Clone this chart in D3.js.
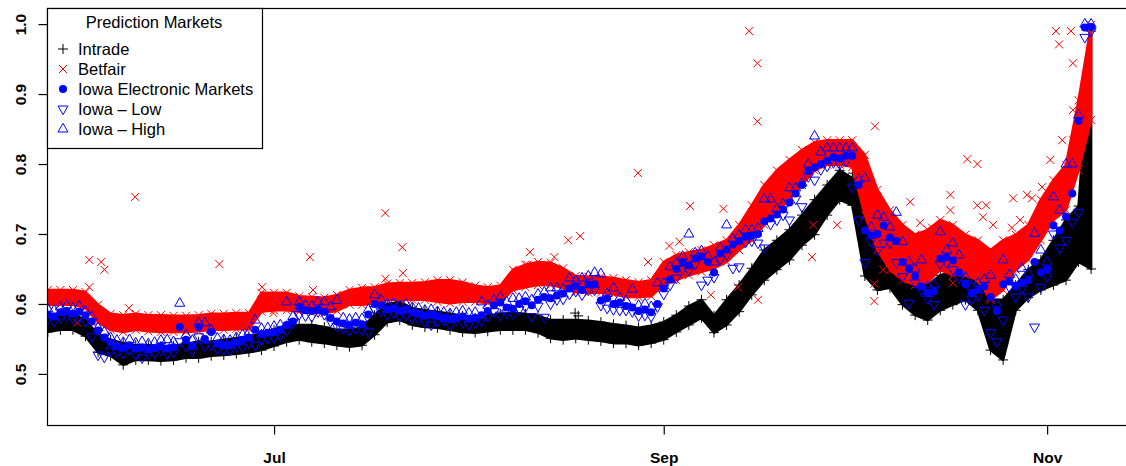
<!DOCTYPE html>
<html>
<head>
<meta charset="utf-8">
<script src="https://cdn.jsdelivr.net/npm/d3@7"></script>
<style>
  body { margin: 0; background: #fff; }
  svg { display: block; }
  text { font-family: "Liberation Sans", Arial, sans-serif; }
</style>
</head>
<body>
<script>
// ---- data ----
// daily dates, May 26 .. Nov 8 2008
const dayDates = d3.utcDay.range(new Date(Date.UTC(2008, 4, 26)), new Date(Date.UTC(2008, 10, 9)));
// bands are sampled every second day
const bandDates = dayDates.filter((d, i) => i % 2 === 0);

// Intrade: top and bottom of the dense black band
const intradeHi = [.580,.583,.586,.577,.556,.549,.544,.541,.541,.540,.540,.543,.546,.546,.549,.551,.554,.557,.563,.569,
  .570,.570,.567,.563,.563,.566,.584,.600,.603,.594,.591,.589,.586,.583,.580,.583,.586,.587,.586,.583,
  .577,.577,.577,.576,.574,.571,.569,.566,.569,.574,.584,.597,.606,.583,.606,.627,.651,.677,.691,.706,
  .727,.749,.770,.791,.780,.760,.670,.660,.641,.634,.627,.641,.646,.646,.627,.606,.606,.627,.649,.663,
  .691,.720,.740,.990];
const intradeLo = [.560,.563,.563,.554,.531,.526,.513,.520,.520,.519,.520,.523,.523,.526,.527,.529,.531,.534,.540,.546,
  .549,.546,.544,.541,.539,.541,.556,.574,.577,.570,.567,.566,.563,.560,.559,.561,.563,.563,.563,.559,
  .551,.549,.551,.549,.547,.544,.544,.541,.544,.549,.560,.570,.580,.559,.570,.589,.613,.634,.649,.663,
  .684,.699,.727,.749,.741,.640,.620,.623,.599,.584,.577,.591,.599,.606,.591,.534,.520,.591,.609,.620,
  .627,.634,.660,.650];
// a few stray Intrade trades: [day offset from May 26, value]
const intradeOut = [[83.9, .587], [84.4, .583], [112.6, .644], [113.1, .645], [128.1, .787], [129.2, .787]];

// Betfair: top and bottom of the red band
const betfairHi = [.620,.620,.620,.617,.599,.586,.584,.586,.584,.584,.583,.583,.584,.586,.586,.587,.587,.616,.616,.616,
  .611,.610,.609,.613,.620,.623,.624,.629,.630,.630,.631,.634,.634,.631,.626,.624,.626,.649,.656,.660,
  .659,.651,.640,.639,.639,.637,.634,.631,.634,.660,.670,.674,.677,.684,.691,.713,.741,.770,.791,.806,
  .820,.831,.834,.834,.834,.813,.763,.734,.713,.699,.706,.720,.713,.699,.691,.677,.691,.699,.713,.749,
  .777,.799,.891,.999];
const betfairLo = [.599,.599,.599,.594,.574,.563,.560,.563,.561,.560,.560,.560,.561,.563,.563,.564,.564,.589,.591,.591,
  .589,.587,.587,.590,.599,.599,.601,.606,.606,.606,.606,.603,.601,.603,.603,.601,.603,.620,.624,.627,
  .627,.623,.617,.616,.616,.614,.610,.610,.611,.627,.634,.641,.646,.651,.660,.677,.691,.713,.731,.749,
  .770,.791,.799,.799,.796,.727,.677,.649,.634,.627,.631,.649,.641,.641,.634,.606,.620,.649,.663,.691,
  .720,.734,.791,.863];
// Betfair stray trades: [day offset from May 26, value]
const betfairOut = [[6.6,.663],[8.5,.660],[9.0,.649],[6.6,.624],[4.7,.573],[12.9,.594],[13.9,.753],[27.3,.657],
  [34.1,.624],[35.9,.587],[41.7,.667],[42.2,.620],[53.7,.730],[53.7,.636],[56.4,.681],[56.5,.644],
  [76.3,.656],[76.7,.674],[80.6,.667],[82.8,.691],[84.7,.697],[93.9,.787],[95.5,.660],[98.9,.683],
  [100.5,.689],[102.2,.740],[105.5,.613],[107.5,.736],[109.8,.624],[111.6,.990],[112.9,.944],[112.9,.861],
  [113.0,.606],[121.6,.667],[121.8,.713],[125.6,.713],[131.6,.854],[131.5,.629],[131.5,.604],[132.9,.649],
  [134.5,.649],[137.2,.746],[138.8,.716],[140.7,.709],[140.7,.691],[143.6,.756],[143.6,.734],[144.0,.630],
  [146.3,.807],[147.9,.800],[147.9,.741],[149.3,.741],[148.8,.724],[149.9,.609],[150.4,.713],[153.6,.751],
  [153.4,.709],[154.7,.720],[155.8,.756],[156.6,.751],[158.2,.767],[159.5,.806],[160.4,.990],[162.8,.990],
  [160.9,.971],[163.1,.944],[163.1,.877],[161.4,.834],[163.1,.834]];

// Iowa Electronic Markets, daily
const iemValue = [.585,.582,.588,.590,.586,.589,.584,.575,.562,.552,.545,.540,.537,.541,.536,.538,.535,.537,.540,.536,
  .538,.567,.549,.540,.567,.550,.560,.543,.541,.541,.545,.549,.552,.563,.557,.559,.560,.563,.570,.575,
  .596,.591,.590,.592,.589,.580,.575,.572,.570,.573,.571,.585,.600,.598,.592,.594,.590,.592,.588,.586,
  .583,.585,.582,.580,.578,.580,.582,.579,.580,.584,.590,.598,.602,.595,.593,.600,.604,.598,.606,.610,
  .608,.612,.615,.622,.626,.620,.628,.628,.605,.608,.600,.602,.597,.595,.590,.592,.588,.600,.622,.635,
  .650,.660,.655,.665,.668,.660,.645,.672,.678,.685,.690,.696,.698,.700,.718,.722,.728,.735,.745,.758,
  .770,.790,.795,.800,.805,.810,.808,.812,.812,.770,.705,.698,.700,.712,.695,.690,.660,.650,.640,.625,
  .615,.618,.665,.667,.662,.645,.628,.615,.620,.625,.610,.590,.628,.632,.625,.630,.634,.660,.645,.650,
  .712,.705,.725,.758,.862,.995,.996];
const iemHigh = [.593,.591,.596,.598,.594,.597,.590,.582,.566,.560,.552,.548,.545,.549,.544,.546,.543,.545,.548,.549,
  .546,.601,.556,.548,.573,.573,.563,.551,.549,.548,.552,.556,.560,.577,.565,.566,.568,.570,.603,.582,
  .603,.598,.597,.603,.603,.596,.605,.580,.578,.580,.579,.592,.613,.606,.600,.601,.598,.600,.595,.594,
  .591,.592,.589,.588,.586,.588,.590,.587,.588,.603,.598,.606,.610,.603,.608,.608,.610,.606,.614,.617,
  .623,.623,.622,.637,.633,.637,.640,.645,.643,.615,.623,.609,.605,.621,.598,.600,.596,.630,.630,.653,
  .658,.668,.700,.673,.676,.668,.660,.680,.713,.693,.698,.706,.706,.708,.750,.750,.736,.743,.766,.766,
  .773,.800,.840,.817,.823,.823,.823,.823,.823,.778,.780,.710,.727,.724,.710,.731,.689,.660,.650,.663,
  .625,.628,.703,.677,.687,.670,.638,.625,.630,.635,.641,.600,.663,.642,.635,.651,.644,.701,.677,.660,
  .753,.734,.800,.800,.870,1.000,1.000];
const iemLow = [.578,.575,.580,.582,.579,.581,.575,.553,.527,.524,.533,.532,.530,.535,.528,.523,.529,.530,.534,.529,
  .531,.546,.540,.533,.553,.540,.541,.536,.535,.534,.540,.538,.544,.541,.549,.551,.552,.555,.562,.573,
  .585,.583,.582,.589,.585,.575,.568,.565,.562,.565,.563,.560,.592,.590,.585,.587,.583,.584,.580,.578,
  .575,.570,.575,.577,.570,.577,.574,.571,.573,.576,.582,.589,.584,.587,.586,.592,.596,.582,.597,.581,
  .600,.606,.607,.614,.618,.613,.620,.620,.598,.594,.592,.591,.591,.589,.583,.584,.582,.596,.614,.627,
  .637,.650,.648,.657,.627,.634,.638,.664,.670,.651,.653,.688,.690,.687,.680,.714,.720,.727,.720,.750,
  .739,.782,.777,.792,.797,.802,.800,.804,.767,.720,.659,.690,.677,.687,.687,.659,.639,.601,.630,.620,
  .607,.599,.657,.659,.649,.637,.599,.607,.612,.591,.559,.546,.577,.624,.610,.622,.610,.567,.624,.639,
  .700,.680,.691,.717,.731,.981,.990];

const yTicks = [0.5, 0.6, 0.7, 0.8, 0.9, 1.0];
const xTicks = [new Date(Date.UTC(2008, 6, 1)), new Date(Date.UTC(2008, 8, 1)), new Date(Date.UTC(2008, 10, 1))];
const legendItems = ['Intrade', 'Betfair', 'Iowa Electronic Markets', 'Iowa \u2013 Low', 'Iowa \u2013 High'];

// ---- layout ----
const W = 1126, H = 466;
const mLeft = 47, mTop = 8, mRight = 1127, mBottom = 425;

const x = d3.scaleUtc()
  .domain([new Date(Date.UTC(2008, 4, 25, 21)), new Date(Date.UTC(2008, 10, 13, 17))])
  .range([mLeft, mRight]);
const y = d3.scaleLinear().domain([0.427, 1.023]).range([mBottom, mTop]);
const offDate = o => new Date(Date.UTC(2008, 4, 26) + o * 864e5);

const sym = {
  plus: 'M-5,0H5M0,-5V5',
  cross: 'M-4,-4L4,4M-4,4L4,-4',
  down: 'M-5,-3L5,-3L0,5.7Z',
  up: 'M0,-5.7L5,3L-5,3Z'
};

const svg = d3.select('body').append('svg')
  .attr('width', W)
  .attr('height', H);

svg.append('clipPath').attr('id', 'plot')
  .append('rect').attr('x', mLeft).attr('y', mTop)
  .attr('width', mRight - mLeft).attr('height', mBottom - mTop);

const g = svg.append('g').attr('clip-path', 'url(#plot)');

// dense trade cloud: filled band plus the marker shape along both edges
function band(hi, lo, color, shape) {
  const area = d3.area()
    .x((d, i) => x(bandDates[i]))
    .y0((d, i) => y(lo[i]))
    .y1(d => y(d));
  g.append('path').datum(hi).attr('d', area)
    .attr('fill', color)
    .attr('stroke', color)
    .attr('stroke-width', 2.5)
    .attr('stroke-linejoin', 'round');
  const pts = [];
  hi.forEach((v, i) => { pts.push([bandDates[i], v]); pts.push([bandDates[i], lo[i]]); });
  g.append('g').selectAll('path').data(pts).enter().append('path')
    .attr('transform', d => `translate(${x(d[0])},${y(d[1])})`)
    .attr('d', shape)
    .attr('fill', 'none')
    .attr('stroke', color)
    .attr('stroke-width', 1);
}

// Intrade
band(intradeHi, intradeLo, '#000', sym.plus);
g.append('g').selectAll('path').data(intradeOut).enter().append('path')
  .attr('transform', d => `translate(${x(offDate(d[0]))},${y(d[1])})`)
  .attr('d', sym.plus).attr('stroke', '#000').attr('fill', 'none');

// Betfair
band(betfairHi, betfairLo, '#ff0000', sym.cross);
g.append('g').selectAll('path').data(betfairOut).enter().append('path')
  .attr('transform', d => `translate(${x(offDate(d[0]))},${y(d[1])})`)
  .attr('d', sym.cross).attr('stroke', '#ff0000').attr('fill', 'none');

// Iowa
g.append('g').selectAll('circle').data(iemValue).enter().append('circle')
  .attr('cx', (d, i) => x(dayDates[i]))
  .attr('cy', d => y(d))
  .attr('r', 4)
  .attr('fill', '#0000ff');

g.append('g').selectAll('path').data(iemLow).enter().append('path')
  .attr('transform', (d, i) => `translate(${x(dayDates[i])},${y(d)})`)
  .attr('d', sym.down).attr('fill', 'none').attr('stroke', '#0000ff');

g.append('g').selectAll('path').data(iemHigh).enter().append('path')
  .attr('transform', (d, i) => `translate(${x(dayDates[i])},${y(d)})`)
  .attr('d', sym.up).attr('fill', 'none').attr('stroke', '#0000ff');

// box
svg.append('rect')
  .attr('x', mLeft + 0.5).attr('y', mTop + 0.5)
  .attr('width', mRight - mLeft).attr('height', mBottom - mTop)
  .attr('fill', 'none').attr('stroke', '#000').attr('stroke-width', 1.2);

// y axis
const yAxis = svg.append('g')
  .attr('transform', `translate(${mLeft + 0.5},0)`)
  .call(d3.axisLeft(y).tickValues(yTicks).tickSize(9).tickFormat(d3.format('.1f')));
yAxis.select('.domain').remove();
yAxis.selectAll('line').attr('stroke-width', 1.2);
yAxis.selectAll('text')
  .attr('x', 0).attr('dy', 0)
  .attr('transform', 'translate(-22,0) rotate(-90)')
  .attr('text-anchor', 'middle')
  .attr('font-family', '"Liberation Sans", Arial, sans-serif')
  .attr('font-weight', 'bold')
  .attr('font-size', '15.5px')
  .attr('fill', '#000');

// x axis
const xAxis = svg.append('g')
  .attr('transform', `translate(0,${mBottom + 0.5})`)
  .call(d3.axisBottom(x).tickValues(xTicks).tickSize(9).tickFormat(d3.utcFormat('%b')));
xAxis.select('.domain').remove();
xAxis.selectAll('line').attr('stroke-width', 1.2);
xAxis.selectAll('text')
  .attr('y', 37).attr('dy', 0)
  .attr('font-family', '"Liberation Sans", Arial, sans-serif')
  .attr('font-weight', 'bold')
  .attr('font-size', '15.5px')
  .attr('fill', '#000');

// legend
const lg = svg.append('g');
lg.append('rect')
  .attr('x', mLeft + 0.5).attr('y', mTop + 0.5)
  .attr('width', 215).attr('height', 140)
  .attr('fill', '#fff').attr('stroke', '#000').attr('stroke-width', 1.2);
lg.append('text')
  .attr('x', 154).attr('y', 28)
  .attr('text-anchor', 'middle')
  .attr('font-size', '16.5px')
  .text('Prediction Markets');

const legendShapes = [sym.plus, sym.cross, null, sym.down, sym.up];
const legendColors = ['#000', '#ff0000', '#0000ff', '#0000ff', '#0000ff'];
legendItems.forEach((name, i) => {
  const cy = 49 + i * 20;
  if (legendShapes[i]) {
    lg.append('path')
      .attr('transform', `translate(63,${cy})`)
      .attr('d', legendShapes[i])
      .attr('fill', 'none')
      .attr('stroke', legendColors[i]);
  } else {
    lg.append('circle').attr('cx', 63).attr('cy', cy).attr('r', 4).attr('fill', legendColors[i]);
  }
  lg.append('text')
    .attr('x', 78).attr('y', cy + 6)
    .attr('font-size', '16.5px')
    .text(name);
});
</script>
</body>
</html>
